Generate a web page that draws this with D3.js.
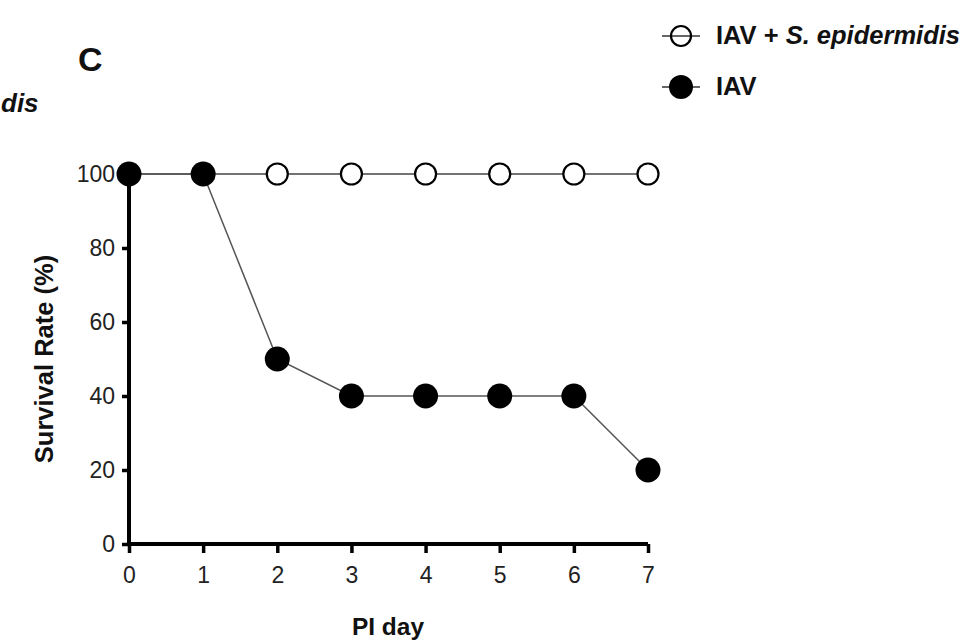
<!DOCTYPE html>
<html>
<head>
<meta charset="utf-8">
<script src="https://cdn.jsdelivr.net/npm/d3@7"></script>
<style>
  html, body { margin: 0; padding: 0; background: #fff; }
  svg { display: block; font-family: "Liberation Sans", Arial, sans-serif; }
</style>
</head>
<body>
<svg id="chart" width="965" height="643"></svg>
<script>
// Survival after infection, by post-infection day
const days = [0, 1, 2, 3, 4, 5, 6, 7];
const survivalIAVSepi = [100, 100, 100, 100, 100, 100, 100, 100];
const survivalIAV = [100, 100, 50, 40, 40, 40, 40, 20];
const yTicks = [0, 20, 40, 60, 80, 100];
const seriesNames = ["IAV + ", "S. epidermidis", "IAV"];
const neighbourLabelTail = "dis";

const svg = d3.select("#chart");

const x = d3.scaleLinear().domain([0, 7]).range([129, 648]);
const y = d3.scaleLinear().domain([0, 100]).range([544, 174]);

// panel letter
svg.append("text").attr("x", 78).attr("y", 71)
  .attr("font-size", 34).attr("font-weight", "bold").attr("fill", "#111").text("C");

// tail of the neighbouring panel's label
svg.append("text").attr("x", 1).attr("y", 112)
  .attr("font-size", 26).attr("font-weight", "bold").attr("font-style", "italic")
  .attr("fill", "#111")
  .text(neighbourLabelTail);

// axes
const yAxis = d3.axisLeft(y).tickValues(yTicks).tickSize(7).tickPadding(7)
  .tickFormat(d3.format("d"));
const xAxis = d3.axisBottom(x).tickValues(days).tickSize(9).tickPadding(14)
  .tickFormat(d3.format("d"));

const gy = svg.append("g").attr("transform", `translate(${x(0)},0)`).call(yAxis);
const gx = svg.append("g").attr("transform", `translate(0,${y(0)})`).call(xAxis);

[gx, gy].forEach(g => {
  g.attr("font-size", null).attr("font-family", null);
  g.select(".domain").attr("stroke", "#000").attr("stroke-width", 4);
  g.selectAll(".tick line").attr("stroke", "#000").attr("stroke-width", 3.5);
  g.selectAll(".tick text").style("font-size", "23px").attr("fill", "#222");
});
gy.select(".domain").attr("d", `M0,${y(100)}V${y(0) + 2}`);
gx.select(".domain").attr("d", `M${x(0)},0H${x(7)}`);

// axis titles
svg.append("text")
  .attr("transform", `translate(53,${(y(0) + y(100)) / 2}) rotate(-90)`)
  .attr("text-anchor", "middle").attr("font-size", 25.5).attr("font-weight", "bold")
  .attr("fill", "#111")
  .text("Survival Rate (%)");
svg.append("text").attr("x", 388).attr("y", 635)
  .attr("text-anchor", "middle").attr("font-size", 24.5).attr("font-weight", "bold")
  .attr("fill", "#111")
  .text("PI day");

const line = d3.line().x((d, i) => x(days[i])).y(d => y(d));

// IAV + S. epidermidis series
svg.append("path").datum(survivalIAVSepi).attr("d", line)
  .attr("fill", "none").attr("stroke", "#444").attr("stroke-width", 1.5);
// IAV series
svg.append("path").datum(survivalIAV).attr("d", line)
  .attr("fill", "none").attr("stroke", "#555").attr("stroke-width", 1.5);

svg.append("g").selectAll("circle").data(survivalIAVSepi).join("circle")
  .attr("cx", (d, i) => x(days[i])).attr("cy", d => y(d)).attr("r", 10.5)
  .attr("fill", "#fff").attr("stroke", "#000").attr("stroke-width", 2.2);

svg.append("g").selectAll("circle").data(survivalIAV).join("circle")
  .attr("cx", (d, i) => x(days[i])).attr("cy", d => y(d)).attr("r", 12.5)
  .attr("fill", "#000");

// legend
const lg = svg.append("g");
lg.append("line").attr("x1", 662).attr("x2", 700).attr("y1", 36).attr("y2", 36)
  .attr("stroke", "#333").attr("stroke-width", 1.5);
lg.append("circle").attr("cx", 681).attr("cy", 36).attr("r", 10)
  .attr("fill", "none").attr("stroke", "#000").attr("stroke-width", 2.2);
const t1 = lg.append("text").attr("x", 716).attr("y", 44)
  .attr("font-size", 25.5).attr("font-weight", "bold").attr("fill", "#111");
t1.append("tspan").text(seriesNames[0]);
t1.append("tspan").attr("font-style", "italic").text(seriesNames[1]);

lg.append("line").attr("x1", 662).attr("x2", 700).attr("y1", 87).attr("y2", 87)
  .attr("stroke", "#333").attr("stroke-width", 1.5);
lg.append("circle").attr("cx", 681).attr("cy", 87).attr("r", 12)
  .attr("fill", "#000");
lg.append("text").attr("x", 716).attr("y", 95)
  .attr("font-size", 25.5).attr("font-weight", "bold").attr("fill", "#111")
  .text(seriesNames[2]);
</script>
</body>
</html>
